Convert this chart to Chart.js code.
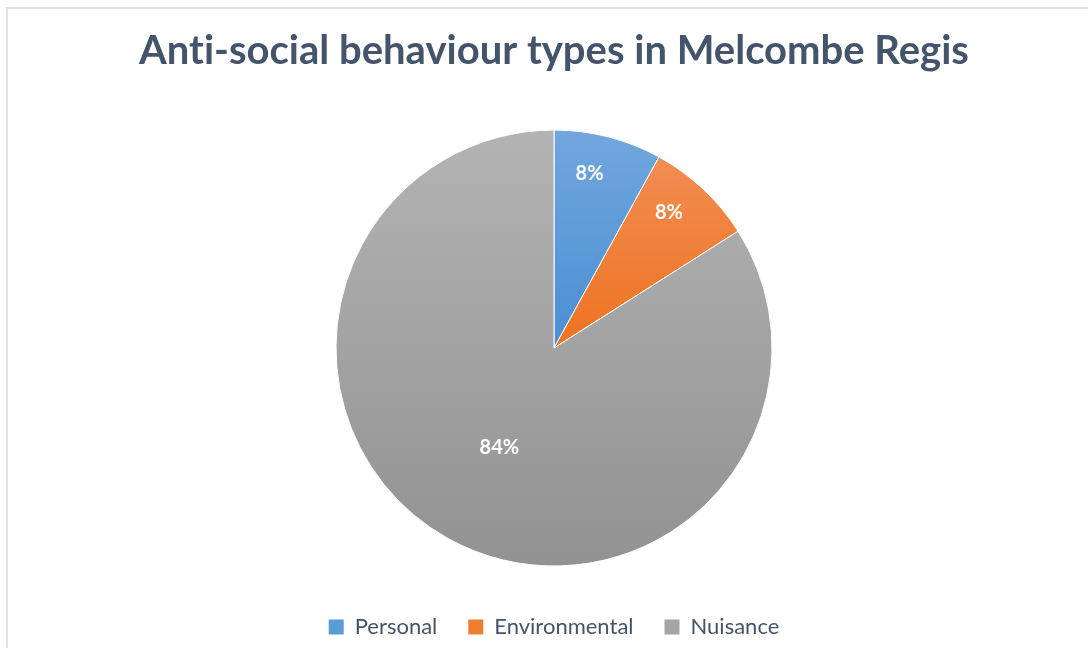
<!DOCTYPE html>
<html>
<head>
<meta charset="utf-8">
<script src="https://cdn.jsdelivr.net/npm/chart.js@4.4.1/dist/chart.umd.min.js"></script>
<style>
  html, body { margin: 0; padding: 0; background: #fff; }
  #wrap { position: relative; width: 1088px; height: 648px; overflow: hidden; }
  #frame { position: absolute; left: 6px; top: 7px; width: 1200px; height: 800px;
           border-left: 2px solid #dee2e7; border-top: 2px solid #dee2e7; }
  canvas { position: absolute; left: 0; top: 0; }
</style>
</head>
<body>
<div id="wrap">
  <div id="frame"></div>
  <canvas id="pie" width="1088" height="648"></canvas>
</div>
<script>
// dados
const categories = ['Personal', 'Environmental', 'Nuisance'];
const shares = [8, 8, 84];

// cores: topo / base do gradiente de cada fatia
const topColors = ['#71a7dd', '#f28d52', '#b3b3b3'];
const bottomColors = ['#4a8ed3', '#ee7220', '#929292'];
const solidColors = ['#5b9bd5', '#ed7d31', '#a5a5a5'];

const PIE_RADIUS = 218;

// ── Gradiente vertical por fatia (como no Excel) ────────────────────────────

function sliceGradient(ctx) {
  const chart = ctx.chart;
  const area = chart.chartArea;
  const i = ctx.dataIndex;
  if (!area || i === undefined) return solidColors[i] || '#a5a5a5';

  const cy = (area.top + area.bottom) / 2;
  const r = PIE_RADIUS;
  const total = shares.reduce((a, b) => a + b, 0);

  let start = -Math.PI / 2;
  for (let k = 0; k < i; k++) start += shares[k] / total * Math.PI * 2;
  const end = start + shares[i] / total * Math.PI * 2;

  const ys = [cy, cy + r * Math.sin(start), cy + r * Math.sin(end)];
  const inside = a => {
    let t = a;
    while (t < start) t += Math.PI * 2;
    return t <= end;
  };
  if (inside(-Math.PI / 2)) ys.push(cy - r);
  if (inside(Math.PI / 2)) ys.push(cy + r);

  const y0 = Math.min(...ys);
  const y1 = Math.max(...ys);
  const g = chart.ctx.createLinearGradient(0, y0, 0, y1);
  g.addColorStop(0, topColors[i]);
  g.addColorStop(1, bottomColors[i]);
  return g;
}

// ── Rótulos de porcentagem dentro das fatias ───────────────────────────────

const pctLabels = {
  id: 'pctLabels',
  afterDatasetsDraw(chart) {
    const meta = chart.getDatasetMeta(0);
    const c = chart.ctx;
    c.save();
    c.fillStyle = '#ffffff';
    c.font = 'bold 20px Lato';
    c.textAlign = 'center';
    c.textBaseline = 'middle';
    meta.data.forEach((arc, i) => {
      const big = shares[i] > 50;
      // o Excel puxa um pouco os rótulos pequenos para o início da fatia
      const mid = (arc.startAngle + arc.endAngle) / 2 - (big ? 0 : 0.05);
      const d = arc.outerRadius * (big ? 0.52 : 0.815);
      const x = arc.x + Math.cos(mid) * d;
      const y = arc.y + Math.sin(mid) * d;
      c.fillText(shares[i] + '%', x, y);
    });
    c.restore();
  },
};

new Chart(document.getElementById('pie'), {
  type: 'pie',
  data: {
    labels: categories,
    datasets: [{
      data: shares,
      backgroundColor: sliceGradient,
      borderColor: '#ffffff',
      borderWidth: 1,
      radius: PIE_RADIUS,
    }],
  },
  options: {
    responsive: false,
    animation: false,
    layout: { padding: { left: 20, right: 0, top: 0, bottom: 0 } },
    plugins: {
      title: {
        display: true,
        // \u200C evita a ligadura "ti" da fonte Lato
        text: 'Ant\u200Ci-social behaviour types in Melcombe Regis',
        color: '#44546a',
        font: { family: 'Lato', size: 40, weight: 'bold' },
        padding: { top: 27, bottom: 36 },
      },
      legend: {
        position: 'bottom',
        labels: {
          color: '#44546a',
          font: { family: 'Lato', size: 22 },
          boxWidth: 15,
          boxHeight: 15,
          padding: 31,
          generateLabels: chart => categories.map((name, i) => ({
            text: name,
            fillStyle: solidColors[i],
            strokeStyle: solidColors[i],
            lineWidth: 0,
            fontColor: '#44546a',
            index: i,
          })),
        },
      },
      tooltip: { enabled: false },
    },
  },
  plugins: [pctLabels],
});
</script>
</body>
</html>
